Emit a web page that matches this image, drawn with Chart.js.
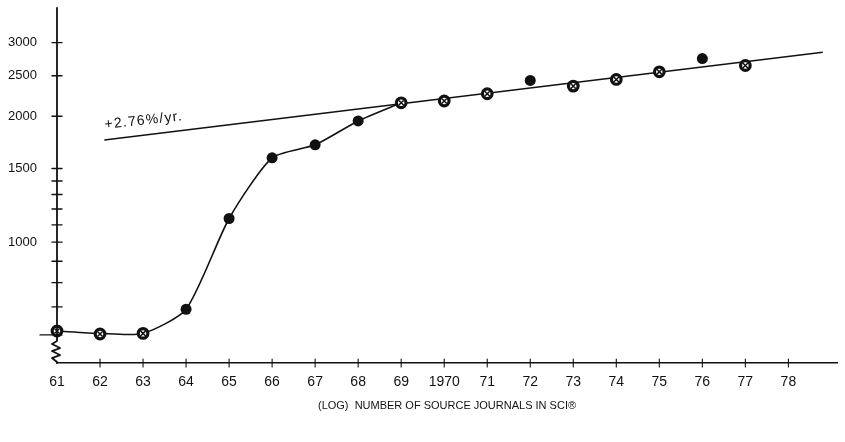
<!DOCTYPE html>
<html>
<head>
<meta charset="utf-8">
<script src="https://cdn.jsdelivr.net/npm/chart.js@4/dist/chart.umd.min.js"></script>
<style>
html, body { margin: 0; padding: 0; background: #fff; }
#wrap { width: 845px; height: 442px; }
</style>
</head>
<body>
<div id="wrap"><canvas id="chart"></canvas></div>
<script>
// Number of source journals in SCI, 1961-1977 (log scale)
const years = [61, 62, 63, 64, 65, 66, 67, 68, 69, 70, 71, 72, 73, 74, 75, 76, 77];
const journals = [613, 603, 605, 691, 1139, 1591, 1709, 1949, 2154, 2175, 2264, 2436, 2361, 2449, 2554, 2748, 2645];
const markerKind = ['open', 'open', 'open', 'filled', 'filled', 'filled', 'filled', 'filled', 'open',
    'open', 'open', 'filled', 'open', 'open', 'open', 'filled', 'open'];

// hand-drawn growth curve up to 1969
const curveYears = [61, 62, 63, 64, 65, 66, 67, 68, 69];
const curveValues = [613, 605, 605, 691, 1139, 1591, 1709, 1949, 2154];

// fitted trend line
const trendYears = [62.1, 78.8];
const trendValues = [1756, 2844];
const trendLabel = '+2.76%/yr.';

const xTickValues = [61, 62, 63, 64, 65, 66, 67, 68, 69, 70, 71, 72, 73, 74, 75, 76, 77, 78];
const xTickLabels = ['61', '62', '63', '64', '65', '66', '67', '68', '69', '1970', '71', '72', '73', '74', '75', '76', '77', '78'];
const yTickValues = [600, 700, 800, 900, 1000, 1100, 1200, 1300, 1400, 1500, 2000, 2500, 3000];
const yTickLabels = ['', '', '', '', '1000', '', '', '', '', '1500', '2000', '2500', '3000'];
const axisBreakValue = 580;
const xTitle = '(LOG)  NUMBER OF SOURCE JOURNALS IN SCI\u00AE';

const toPoints = (xs, ys) => xs.map((x, i) => ({ x: x, y: ys[i] }));
const filledPts = years.map((x, i) => ({ x: x, y: journals[i] })).filter((p, i) => markerKind[i] === 'filled');
const openPts = years.map((x, i) => ({ x: x, y: journals[i] })).filter((p, i) => markerKind[i] === 'open');

const INK = '#111';

// Axis lines, crossing ticks, axis break and trend label
const axesPlugin = {
    id: 'axesPlugin',
    afterDatasetsDraw(chart) {
        const ctx = chart.ctx;
        const xs = chart.scales.x;
        const ys = chart.scales.y;
        const x0 = xs.getPixelForValue(61);
        const bottom = chart.chartArea.bottom;
        ctx.save();
        ctx.strokeStyle = INK;
        ctx.lineWidth = 1.8;
        ctx.lineCap = 'round';
        ctx.lineJoin = 'round';

        // y axis with break
        const yb = ys.getPixelForValue(axisBreakValue);
        ctx.beginPath();
        ctx.moveTo(x0, chart.chartArea.top);
        ctx.lineTo(x0, yb);
        const zig = [[-5, 3], [3, 7], [-5, 10], [3, 14], [-5, 17], [0, 21]];
        zig.forEach(([dx, dy]) => ctx.lineTo(x0 + dx, yb + dy));
        ctx.lineTo(x0, bottom);
        ctx.stroke();

        // y ticks crossing the axis
        ctx.lineWidth = 1.4;
        yTickValues.forEach((v) => {
            const py = ys.getPixelForValue(v);
            const left = v === 600 ? 17 : 5;
            ctx.beginPath();
            ctx.moveTo(x0 - left, py);
            ctx.lineTo(x0 + 5, py);
            ctx.stroke();
        });

        // x ticks crossing the axis
        ctx.lineWidth = 1.1;
        xTickValues.forEach((v) => {
            if (v === 61) return;
            const px = xs.getPixelForValue(v);
            ctx.beginPath();
            ctx.moveTo(px, bottom - 4);
            ctx.lineTo(px, bottom + 4);
            ctx.stroke();
        });

        // trend label
        const ax = xs.getPixelForValue(trendYears[0]);
        const ay = ys.getPixelForValue(trendValues[0]);
        const bx = xs.getPixelForValue(trendYears[1]);
        const by = ys.getPixelForValue(trendValues[1]);
        const ang = Math.atan2(by - ay, bx - ax);
        ctx.translate(ax, ay);
        ctx.rotate(ang * 0.9);
        ctx.fillStyle = INK;
        ctx.font = '14px "Liberation Sans", Arial, sans-serif';
        ctx.letterSpacing = '1.2px';
        ctx.textBaseline = 'alphabetic';
        ctx.fillText(trendLabel, 2, -11);
        ctx.restore();
    }
};

new Chart(document.getElementById('chart'), {
    type: 'scatter',
    data: {
        datasets: [
            {
                label: 'curve',
                data: toPoints(curveYears, curveValues),
                showLine: true,
                borderColor: INK,
                borderWidth: 1.6,
                pointRadius: 0,
                tension: 0.22,
                clip: false,
                order: 4
            },
            {
                label: 'trend',
                data: toPoints(trendYears, trendValues),
                showLine: true,
                borderColor: INK,
                borderWidth: 1.5,
                pointRadius: 0,
                clip: false,
                order: 3
            },
            {
                label: 'filled',
                data: filledPts,
                pointStyle: 'circle',
                pointRadius: 5.5,
                backgroundColor: INK,
                borderColor: INK,
                borderWidth: 0,
                clip: false,
                order: 2
            },
            {
                label: 'open',
                data: openPts,
                pointStyle: 'circle',
                pointRadius: 4.8,
                backgroundColor: '#fff',
                borderColor: INK,
                borderWidth: 3.2,
                clip: false,
                order: 1
            },
            {
                label: 'open-cross',
                data: openPts,
                pointStyle: 'crossRot',
                pointRadius: 3.6,
                borderColor: INK,
                borderWidth: 1.5,
                clip: false,
                order: 0
            }
        ]
    },
    options: {
        responsive: true,
        maintainAspectRatio: false,
        animation: false,
        layout: { padding: { top: 7, right: 5, left: 0, bottom: 0 } },
        plugins: {
            legend: { display: false },
            tooltip: { enabled: false }
        },
        scales: {
            x: {
                type: 'linear',
                min: 61,
                max: 79.13,
                afterBuildTicks: (scale) => { scale.ticks = xTickValues.map(v => ({ value: v })); },
                afterFit: (scale) => {
                    scale.height = 79;
                    scale.paddingLeft = 0;
                    scale.paddingRight = 0;
                },
                grid: { display: false, drawTicks: false },
                border: { display: true, color: INK, width: 1.6 },
                ticks: {
                    autoSkip: false,
                    maxRotation: 0,
                    padding: 11,
                    color: INK,
                    font: { family: '"Liberation Sans", Arial, sans-serif', size: 14 },
                    callback: (value, index) => xTickLabels[index]
                },
                title: {
                    display: true,
                    text: xTitle,
                    color: INK,
                    font: { family: '"Liberation Sans", Arial, sans-serif', size: 11 },
                    padding: { top: 0, bottom: 29 }
                }
            },
            y: {
                type: 'logarithmic',
                min: 514,
                max: 3630,
                afterBuildTicks: (scale) => { scale.ticks = yTickValues.map(v => ({ value: v })); },
                afterFit: (scale) => {
                    scale.width = 57;
                    scale.paddingTop = 0;
                    scale.paddingBottom = 0;
                },
                grid: { display: false, drawTicks: false },
                border: { display: false },
                ticks: {
                    autoSkip: false,
                    padding: 20,
                    color: INK,
                    font: { family: '"Liberation Sans", Arial, sans-serif', size: 13 },
                    callback: (value, index) => yTickLabels[index]
                }
            }
        }
    },
    plugins: [axesPlugin]
});
</script>
</body>
</html>
